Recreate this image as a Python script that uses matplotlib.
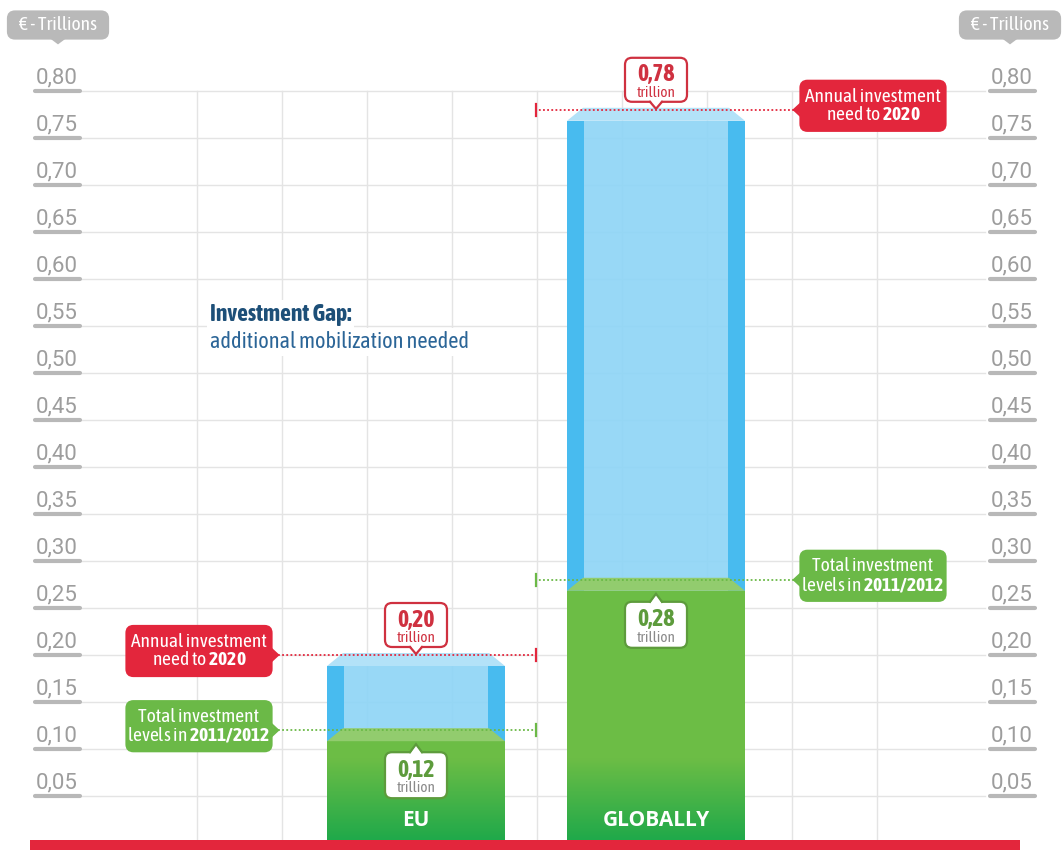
import matplotlib.pyplot as plt
import numpy as np
from matplotlib.colors import LinearSegmentedColormap
from matplotlib.patches import FancyBboxPatch, Polygon, Rectangle

categories = ["EU", "GLOBALLY"]
need_2020 = [0.20, 0.78]
level_2011 = [0.12, 0.28]
need_text = ["0,20", "0,78"]
level_text = ["0,12", "0,28"]
tick_values = [0.05, 0.10, 0.15, 0.20, 0.25, 0.30, 0.35, 0.40,
               0.45, 0.50, 0.55, 0.60, 0.65, 0.70, 0.75, 0.80]
tick_labels = ["0,05", "0,10", "0,15", "0,20", "0,25", "0,30", "0,35", "0,40",
               "0,45", "0,50", "0,55", "0,60", "0,65", "0,70", "0,75", "0,80"]

COND = ["Asap Condensed", "Roboto", "DejaVu Sans"]
plt.rcParams["font.family"] = ["Roboto", "DejaVu Sans"]
plt.rcParams["mathtext.fontset"] = "custom"
plt.rcParams["mathtext.rm"] = "Asap Condensed"
plt.rcParams["mathtext.bf"] = "Asap Condensed:bold"

RED = "#e3263c"
RED_TEXT = "#cf3140"
GREEN = "#6cbd45"
GREEN_TOP = "#92cc6e"
GREEN_DARK = "#14a64b"
GREEN_TEXT = "#5d9b3c"
GREEN_LABEL = "#6bb947"
BLUE = "#8fd5f6"
BLUE_SIDE = "#48bbef"
BLUE_TOP = "#b3e2f8"
GRAY = "#9d9d9d"

# one data unit along x is 240 px, along y 940 px
PX_X = 1 / 240
PX_Y = 1 / 940
ASPECT = PX_Y / PX_X
W = 178 * PX_X


def fx(p):
    # figure pixel column -> data x
    return (p - 416) * PX_X


fig = plt.figure(figsize=(10.62, 8.5), dpi=100)
ax = fig.add_axes([0, 0, 1, 1])
ax.set_axis_off()


def bubble(cx, cy, w, h, face, edge, tip, side, lw=1.6, z=6):
    bw, bh = w * PX_X, h * PX_Y
    ax.add_patch(FancyBboxPatch((cx - bw / 2, cy - bh / 2), bw, bh,
                                boxstyle="round,pad=0,rounding_size=%f" % (7 * PX_X),
                                mutation_aspect=ASPECT, fc=face, ec=edge, lw=lw, zorder=z))
    tx, ty = tip
    s = 6
    if side == "bottom":
        base = [(tx - s * PX_X, cy - bh / 2), (tx + s * PX_X, cy - bh / 2)]
        inner = [(x, y + 2 * PX_Y) for x, y in base]
    elif side == "top":
        base = [(tx - s * PX_X, cy + bh / 2), (tx + s * PX_X, cy + bh / 2)]
        inner = [(x, y - 2 * PX_Y) for x, y in base]
    elif side == "left":
        base = [(cx - bw / 2, ty - s * PX_Y), (cx - bw / 2, ty + s * PX_Y)]
        inner = [(x + 2 * PX_X, y) for x, y in base]
    else:
        base = [(cx + bw / 2, ty - s * PX_Y), (cx + bw / 2, ty + s * PX_Y)]
        inner = [(x - 2 * PX_X, y) for x, y in base]
    ax.add_patch(Polygon([inner[0], tip, inner[1]], closed=True, fc=face, ec="none", zorder=z + 0.1))
    ax.plot([base[0][0], tx, base[1][0]], [base[0][1], ty, base[1][1]],
            color=edge, lw=lw, zorder=z + 0.2, solid_joinstyle="miter")


# grid + axis labels on both sides
for v, lab in zip(tick_values, tick_labels):
    ax.plot([fx(82), fx(985)], [v, v], color="#e4e4e4", lw=1, zorder=0)
    for c, (a, b) in zip((57, 1012), ((35, 80), (990, 1035))):
        ax.text(fx(c), v + 3 * PX_Y, lab, ha="center", va="bottom", fontsize=16, color=GRAY)
        ax.plot([fx(a), fx(b)], [v, v], color="#b8b8b8", lw=3, solid_capstyle="round", zorder=1)
for k in range(9):
    ax.plot([fx(197 + 85 * k)] * 2, [-0.01, 0.80], color="#e4e4e4", lw=1, zorder=0)

green_cmap = LinearSegmentedColormap.from_list("g", [GREEN_DARK, GREEN])
grad = np.linspace(0, 1, 100).reshape(-1, 1)

bev_in = 16 * PX_X
side_w = 17 * PX_X
for i, (cat, need, lvl) in enumerate(zip(categories, need_2020, level_2011)):
    x0, x1 = i - W / 2, i + W / 2
    top, body = need + 2 * PX_Y, need - 11 * PX_Y
    gtop, gbody = lvl + 2 * PX_Y, lvl - 11 * PX_Y
    # blue gap part
    ax.add_patch(Rectangle((x0, gbody), W, body - gbody, fc=BLUE, ec="none", alpha=0.92, zorder=2))
    ax.add_patch(Rectangle((x0, gbody), side_w, body - gbody, fc=BLUE_SIDE, ec="none", zorder=2.1))
    ax.add_patch(Rectangle((x1 - side_w, gbody), side_w, body - gbody, fc=BLUE_SIDE, ec="none", zorder=2.1))
    ax.add_patch(Polygon([(x0, body), (x0 + bev_in, top), (x1 - bev_in, top), (x1, body)],
                         fc=BLUE_TOP, ec="none", zorder=2.2))
    # green current level
    ax.add_patch(Rectangle((x0, 0), W, gbody, fc=GREEN, ec="none", zorder=2.3))
    ax.imshow(grad, extent=[x0, x1, -0.01, 0.09], origin="lower", cmap=green_cmap,
              aspect="auto", zorder=2.4)
    ax.add_patch(Polygon([(x0, gbody), (x0 + bev_in, gtop), (x1 - bev_in, gtop), (x1, gbody)],
                         fc=GREEN_TOP, ec="none", zorder=2.5))
    ax.text(i, 0.024, cat, ha="center", va="center", color="white", fontsize=15,
            fontweight="bold", family=["Open Sans", "DejaVu Sans"], zorder=3)

    # value bubbles
    bubble(i, need + 30 * PX_Y, 62, 44, "white", RED_TEXT, (i, need + 1 * PX_Y), "bottom")
    ax.text(i, need + 35 * PX_Y, need_text[i], ha="center", va="center", color=RED_TEXT,
            fontsize=17, fontweight="bold", family=COND, zorder=7)
    ax.text(i, need + 17 * PX_Y, "trillion", ha="center", va="center", color=RED_TEXT,
            fontsize=11, family=COND, zorder=7)
    bubble(i, lvl - 45 * PX_Y, 62, 46, "white", GREEN_TEXT, (i, lvl - 14 * PX_Y), "top")
    ax.text(i, lvl - 40 * PX_Y, level_text[i], ha="center", va="center", color=GREEN_TEXT,
            fontsize=17, fontweight="bold", family=COND, zorder=7)
    ax.text(i, lvl - 58 * PX_Y, "trillion", ha="center", va="center", color="#8a8a8a",
            fontsize=11, family=COND, zorder=7)

    # side labels with dotted leaders
    d = -1 if i == 0 else 1
    lx = i + d * 217 * PX_X
    tip_x = lx - d * 79 * PX_X
    for val, col, txt in ((need, RED, "Annual investment\nneed to $\\mathbf{2020}$"),
                          (lvl, GREEN_LABEL, "Total investment\nlevels in $\\mathbf{2011/2012}$")):
        bubble(lx, val + 4 * PX_Y, 145, 50, col, col, (tip_x, val),
               "left" if d > 0 else "right", z=6)
        ax.text(lx, val + 4 * PX_Y, txt, ha="center", va="center", color="white",
                fontsize=14, linespacing=1.0, family=COND, zorder=7)
        ax.plot([tip_x, 0.5], [val, val], color=col, lw=1.3, ls=(0, (1, 1.3)), zorder=5)
        ax.plot([0.5, 0.5], [val - 6 * PX_Y, val + 6 * PX_Y], color=col, lw=1.6, zorder=5)

# annotation in the middle
ax.text(fx(210), 0.562, "Investment Gap:", ha="left", va="center", fontsize=17,
        fontweight="bold", color="#1d4f78", family=COND, zorder=4,
        bbox=dict(fc="white", ec="none", pad=2))
ax.text(fx(210), 0.533, "additional mobilization needed", ha="left", va="center",
        fontsize=16, color="#2b6597", family=COND, zorder=4,
        bbox=dict(fc="white", ec="none", pad=2))

ax.set_xlim(fx(0), fx(1062))
ax.set_ylim(-7 * PX_Y, 843 * PX_Y)

# unit tags in the corners
for cx in (58, 1010):
    bubble(fx(cx), 818 * PX_Y, 100, 27, "#b9b9b9", "#b9b9b9", (fx(cx), 800 * PX_Y), "bottom", z=6)
    ax.text(fx(cx), 818 * PX_Y, "€ - Trillions", ha="center", va="center", color="white",
            fontsize=14, family=COND, zorder=7)

# red footer band
ax.add_patch(Rectangle((30 / 1062, 0), 990 / 1062, 10 / 850, transform=ax.transAxes,
                       fc=RED, ec="none", zorder=8))

fig.savefig("out.png", dpi=100)
